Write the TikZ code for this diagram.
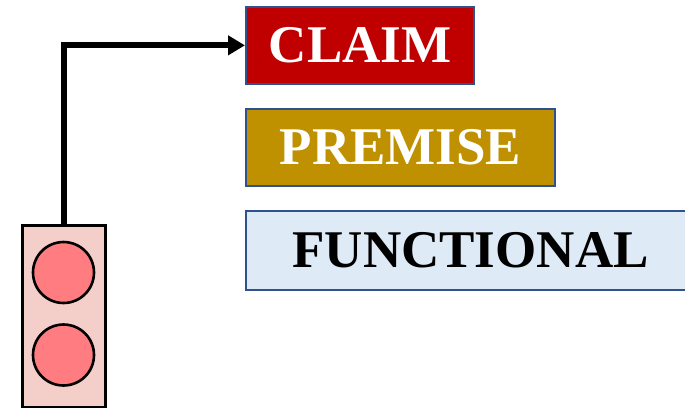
\documentclass[tikz,border=0pt]{standalone}
\usepackage{fontspec}
\setmainfont{Liberation Serif}
\usetikzlibrary{arrows.meta}
\definecolor{edgeblue}{HTML}{2F528F}
\definecolor{claimred}{HTML}{C00000}
\definecolor{premgold}{HTML}{BF9000}
\definecolor{funcblue}{HTML}{DEEBF7}
\definecolor{boxpink}{HTML}{F4CFC9}
\definecolor{discred}{HTML}{FF7C80}
\tikzset{
 lab/.style={draw=edgeblue,line width=2.2pt,anchor=north west,inner sep=0pt,font=\fontsize{53pt}{55pt}\selectfont\bfseries,align=center},
 disc/.style={circle,draw=black,line width=2.6pt,fill=discred,minimum size=61pt,inner sep=0pt},
}
\begin{document}
\begin{tikzpicture}[x=1pt,y=-1pt,scale=1]
\useasboundingbox (0,0) rectangle (685,408);
\node[lab,fill=claimred,text=white,minimum width=228pt,minimum height=76.5pt] (claim) at (245,6) {CLAIM};
\node[lab,fill=premgold,text=white,minimum width=309pt,minimum height=76.5pt] (premise) at (245,108) {PREMISE};
\node[lab,fill=funcblue,text=black,minimum width=449pt,minimum height=78.5pt] (functional) at (245,210) {FUNCTIONAL};
\node[draw=black,line width=2.8pt,fill=boxpink,minimum width=83pt,minimum height=181.5pt,anchor=north west,inner sep=0pt] (box) at (21,224) {};
\node[disc] (d1) at (63.5,272.5) {};
\node[disc] (d2) at (63.5,355) {};
\draw[line width=6pt,-{Triangle[length=17pt,width=19pt]}] (box.north) |- (claim.west);
\end{tikzpicture}
\end{document}
